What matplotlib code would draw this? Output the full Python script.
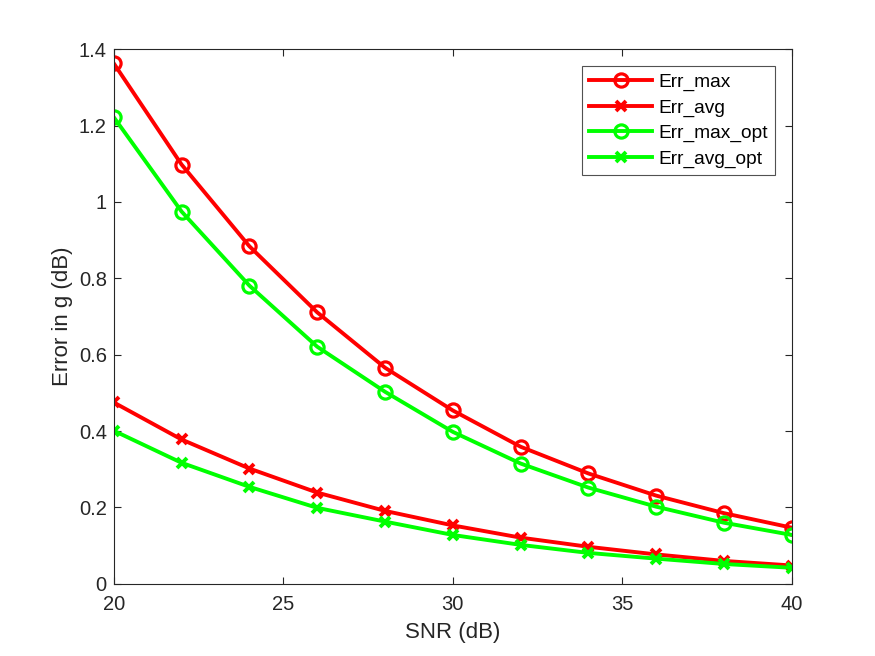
import matplotlib.pyplot as plt

snr = [20, 22, 24, 26, 28, 30, 32, 34, 36, 38, 40]
err_max = [1.363, 1.098, 0.884, 0.711, 0.566, 0.454, 0.359, 0.289, 0.231, 0.185, 0.147]
err_avg = [0.475, 0.378, 0.302, 0.239, 0.191, 0.153, 0.121, 0.097, 0.077, 0.060, 0.048]
err_max_opt = [1.222, 0.975, 0.781, 0.621, 0.503, 0.398, 0.315, 0.252, 0.202, 0.160, 0.128]
err_avg_opt = [0.401, 0.317, 0.254, 0.199, 0.163, 0.128, 0.102, 0.081, 0.066, 0.052, 0.042]

plt.rcParams['font.family'] = ['Liberation Sans', 'DejaVu Sans']

fig = plt.figure(figsize=(8.75, 6.56), dpi=100)
ax = fig.add_axes([0.13, 0.11, 0.775, 0.815])

red = '#ff0000'
green = '#00ff00'
ax.plot(snr, err_max, color=red, lw=2.8, marker='o', ms=9.5, mew=2.3, mfc='none', label='Err_max')
ax.plot(snr, err_avg, color=red, lw=2.8, marker='x', ms=6.5, mew=2.8, label='Err_avg')
ax.plot(snr, err_max_opt, color=green, lw=2.8, marker='o', ms=9.5, mew=2.3, mfc='none', label='Err_max_opt')
ax.plot(snr, err_avg_opt, color=green, lw=2.8, marker='x', ms=6.5, mew=2.8, label='Err_avg_opt')

ax.set_xlim(20, 40)
ax.set_ylim(0, 1.4)
ax.set_xticks([20, 25, 30, 35, 40])
ax.set_yticks([0, 0.2, 0.4, 0.6, 0.8, 1.0, 1.2, 1.4])
ax.set_yticklabels(['0', '0.2', '0.4', '0.6', '0.8', '1', '1.2', '1.4'])
ax.tick_params(direction='in', top=True, right=True, labelsize=14.5, colors='#262626', length=5, width=0.8)
ax.tick_params(axis='x', pad=8)
ax.tick_params(axis='y', pad=5)
for s in ax.spines.values():
    s.set_color('#262626')
    s.set_linewidth(0.8)
ax.set_xlabel('SNR (dB)', fontsize=16, color='#262626', labelpad=6)
ax.set_ylabel('Error in g (dB)', fontsize=16, color='#262626', labelpad=4)

leg = ax.legend(loc='upper right', fontsize=13.8, fancybox=False, edgecolor='#262626',
                bbox_to_anchor=(775 / 875, 1 - 66 / 656), bbox_transform=fig.transFigure,
                borderaxespad=0, borderpad=0.38, handlelength=3.3, handletextpad=0.3,
                labelspacing=0.42)
leg.get_frame().set_linewidth(0.8)

fig.savefig('out.png', dpi=100)
